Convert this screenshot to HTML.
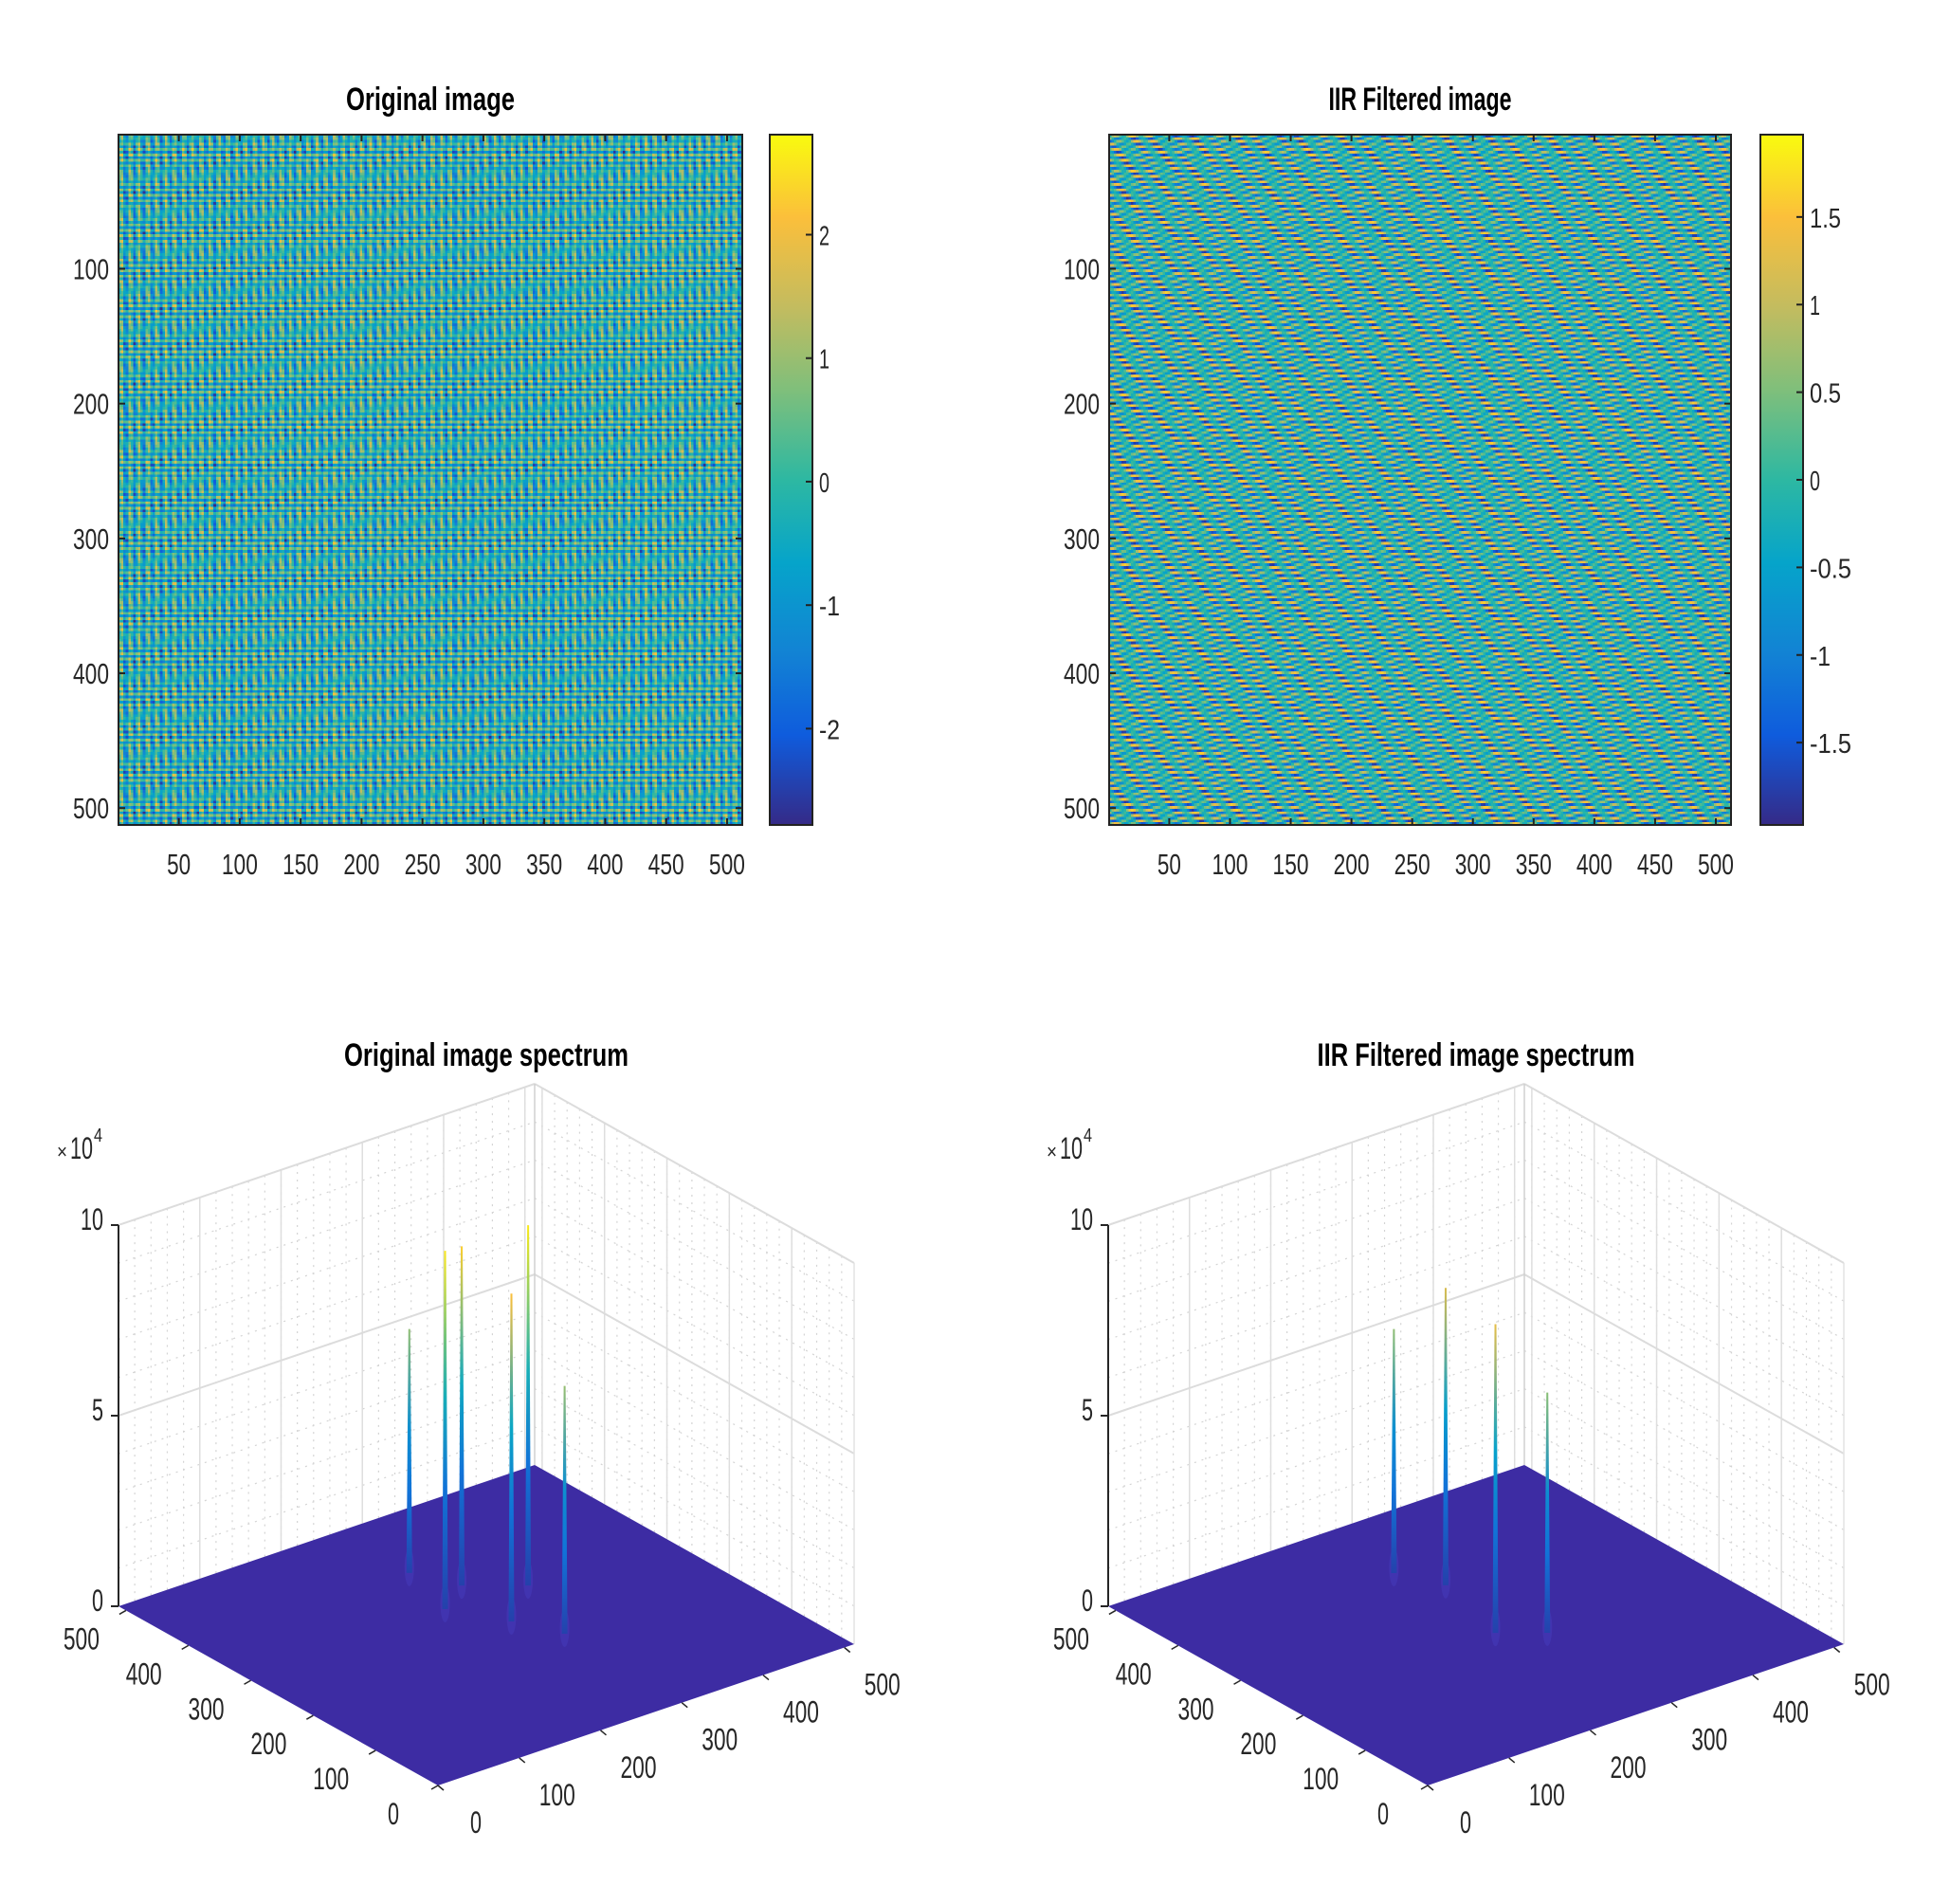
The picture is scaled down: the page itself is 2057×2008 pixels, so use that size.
<!DOCTYPE html>
<html><head><meta charset="utf-8"><style>
html,body{margin:0;padding:0;background:#fff;}
#wrap{position:relative;width:2057px;height:2008px;overflow:hidden;font-family:"Liberation Sans",sans-serif;}
canvas{position:absolute;image-rendering:pixelated;}
svg{position:absolute;left:0;top:0;}
</style></head><body>
<div id="wrap">
<canvas id="c1" width="256" height="256" style="left:125px;top:142px;width:658px;height:728px"></canvas>
<canvas id="c2" width="256" height="256" style="left:1170px;top:142px;width:656px;height:728px"></canvas>
<svg id="s" width="2057" height="2008" xmlns="http://www.w3.org/2000/svg">
<defs>
<linearGradient id="parula" x1="0" y1="1" x2="0" y2="0">
<stop offset="0" stop-color="#352a87"/><stop offset="0.13" stop-color="#0f5cdd"/><stop offset="0.25" stop-color="#1283d4"/><stop offset="0.38" stop-color="#06a4ca"/><stop offset="0.5" stop-color="#2db8a2"/><stop offset="0.63" stop-color="#7fbf7b"/><stop offset="0.75" stop-color="#c3bc5f"/><stop offset="0.88" stop-color="#fbbf3b"/><stop offset="1" stop-color="#f9fb0e"/>
</linearGradient>
</defs>
</svg>
</div>
<script>
// ---- data ----
const yTicks = [100,200,300,400,500];
const xTicks = [50,100,150,200,250,300,350,400,450,500];
const cb1Ticks = [-2,-1,0,1,2];
const cb2Ticks = [-1.5,-1,-0.5,0,0.5,1,1.5];
const floorTicks = [0,100,200,300,400,500];
const zTicks = [0,5,10];
const spikesA1 = [258,236,281,270,332,294];
const spikesB1 = [382,296,328,234,288,180];
const spikesH1 = [6.6,9.6,9.1,8.8,9.65,6.7];
const spikesA2 = [254,277,250,290];
const spikesB2 = [385,332,217,186];
const spikesH2 = [6.6,8.0,8.3,6.5];

const NS='http://www.w3.org/2000/svg';
const svg=document.getElementById('s');
function el(tag,attrs,parent){const e=document.createElementNS(NS,tag);for(const k in attrs)e.setAttribute(k,attrs[k]);(parent||svg).appendChild(e);return e;}
function txt(x,y,s,size,anchor,w,bold,nm){
  const t=el('text',{x:x,y:y,'font-size':size,'text-anchor':anchor,'font-family':'Liberation Sans, sans-serif',fill:bold?'#000':'#262626','font-weight':bold?'bold':'normal',textLength:w,lengthAdjust:'spacingAndGlyphs'});
  t.textContent=s;
  
  
  return t;
}
const stops=[[0,[53,42,135]],[0.13,[15,92,221]],[0.25,[18,131,212]],[0.38,[6,164,202]],[0.5,[45,184,162]],[0.63,[127,191,123]],[0.75,[195,188,95]],[0.88,[251,191,59]],[1,[249,251,14]]];
function parula(t){t=Math.max(0,Math.min(1,t));for(let i=1;i<stops.length;i++){if(t<=stops[i][0]){const a=stops[i-1],b=stops[i];const f=(t-a[0])/(b[0]-a[0]);return a[1].map((v,k)=>Math.round(v+(b[1][k]-v)*f));}}return stops[stops.length-1][1];}

// ---- heatmap textures ----
function fillCanvas(id,fn,lo,hi){
  const c=document.getElementById(id),ctx=c.getContext('2d'),im=ctx.createImageData(256,256);
  for(let y=0;y<256;y++)for(let x=0;x<256;x++){const v=fn(x*2,y*2);const col=parula((v-lo)/(hi-lo));const i=(y*256+x)*4;im.data[i]=col[0];im.data[i+1]=col[1];im.data[i+2]=col[2];im.data[i+3]=255;}
  ctx.putImageData(im,0,0);
}
fillCanvas('c1',(x,y)=>1.1*Math.sin(2*Math.PI*x/7.3+0.4)+0.9*Math.sin(2*Math.PI*y/4.3)+0.6*Math.sin(2*Math.PI*(x*0.31-y*0.17)/2.7)-0.25,-2.8,2.8);
fillCanvas('c2',(x,y)=>0.95*Math.sin(2*Math.PI*(x*0.012+y*0.23))+0.8*Math.sin(2*Math.PI*(x*0.07-y*0.31))-0.1,-1.95,1.95);

// ---- 2D panels ----
function panel2D(ox,px,pw,title,titleW,cbx,cbTicks,cbLo,cbHi,pfx){
  const top=142,bot=870,left=px,right=px+pw;
  txt(left+pw/2,116,title,34,'middle',titleW,true,pfx+'-title');
  el('rect',{x:left,y:top,width:pw,height:bot-top,fill:'none',stroke:'#222','stroke-width':2,});
  const yS=v=>top+(v-0.5)/512*(bot-top), xS=v=>left+(v-0.5)/512*pw;
  yTicks.forEach(v=>{const y=yS(v);el('line',{x1:left,y1:y,x2:left+7,y2:y,stroke:'#222','stroke-width':2});el('line',{x1:right,y1:y,x2:right-7,y2:y,stroke:'#222','stroke-width':2});txt(left-10,y+11,String(v),31,'end',38,false,pfx+'-y-tick-label');});
  xTicks.forEach(v=>{const x=xS(v);el('line',{x1:x,y1:bot,x2:x,y2:bot-7,stroke:'#222','stroke-width':2});el('line',{x1:x,y1:top,x2:x,y2:top+7,stroke:'#222','stroke-width':2});txt(x,922,String(v),31,'middle',v<100?25:38,false,pfx+'-x-tick-label');});
  el('rect',{x:cbx,y:top,width:45,height:bot-top,fill:'url(#parula)',stroke:'#222','stroke-width':2,});
  cbTicks.forEach(v=>{const y=bot-(v-cbLo)/(cbHi-cbLo)*(bot-top);el('line',{x1:cbx+45,y1:y,x2:cbx+38,y2:y,stroke:'#222','stroke-width':2});const s=String(v);txt(cbx+52,y+11,s,29,'start',s.length*11,false,pfx+'-colorbar-label');});
}
panel2D(0,125,658,'Original image',178,812,cb1Ticks,-2.78,2.81,'orig');
panel2D(1044,1170,656,'IIR Filtered image',193,1857,cb2Ticks,-1.97,1.97,'filt');

// ---- 3D panels ----
function panel3D(ox,title,titleW,A,B,H,pfx){
  const P=(a,b,z)=>[ox+462+a/512*439-b/512*337, 1883-a/512*149-b/512*189-z/10*402];
  const g=el('g',{});
  txt(ox+513,1124,title,34,'middle',titleW,true,pfx+'-title');
  const line=(p,q,st,w,dash)=>{const a={x1:p[0],y1:p[1],x2:q[0],y2:q[1],stroke:st,'stroke-width':w};if(dash)a['stroke-dasharray']=dash;return el('line',a,g);};
  for(let t=20;t<512;t+=20){line(P(t,512,0),P(t,512,10),'#d4d4d4',1.2,'2,6');line(P(512,t,0),P(512,t,10),'#d4d4d4',1.2,'2,6');}
  for(let z=1;z<10;z++){if(z==5)continue;line(P(0,512,z),P(512,512,z),'#d4d4d4',1.2,'2,6');line(P(512,512,z),P(512,0,z),'#d4d4d4',1.2,'2,6');}
  floorTicks.forEach(t=>{if(t==0)return;line(P(t,512,0),P(t,512,10),'#dedede',1.5);line(P(512,t,0),P(512,t,10),'#dedede',1.5);});
  [5,10].forEach(z=>{line(P(0,512,z),P(512,512,z),'#dcdcdc',2);line(P(512,512,z),P(512,0,z),'#dcdcdc',2);});
  line(P(512,512,0),P(512,512,10),'#d0d0d0',1.5);
  line(P(512,0,0),P(512,0,10),'#e4e4e4',1.5);
  const c=[P(0,0,0),P(512,0,0),P(512,512,0),P(0,512,0)];
  const fl=el('polygon',{points:c.map(p=>p.join(',')).join(' '),fill:'#3d2ca3'},g);
  
  
  for(let i=0;i<A.length;i++){
    const b0=P(A[i],B[i],0),t0=P(A[i],B[i],H[i]);
    const gid=pfx+'g'+i;
    const lg=el('linearGradient',{id:gid,x1:0,y1:b0[1],x2:0,y2:t0[1],gradientUnits:'userSpaceOnUse'},svg.querySelector('defs'));
    [[0,0.05],[0.35,0.2],[0.6,H[i]*0.045],[1,H[i]/10]].forEach(s=>{const col=parula(s[1]);el('stop',{offset:s[0],'stop-color':'rgb('+col.join(',')+')'},lg);});
    el('ellipse',{cx:b0[0],cy:b0[1]-14,rx:5,ry:20,fill:'#4a46c8',opacity:0.35},g);
    const sp=el('polygon',{points:[b0[0]-3,b0[1]-8,b0[0]+3,b0[1]-8,t0[0]+1,t0[1],t0[0]-1,t0[1]].join(' '),fill:'url(#'+gid+')'},g);
    
    
  }
  const zb=P(0,512,0),zt=P(0,512,10);
  line(zb,zt,'#262626',2);
  zTicks.forEach(z=>{const p=P(0,512,z);line([p[0]-8,p[1]],p,'#262626',2);const s=String(z);txt(p[0]-16,p[1]+5,s,32,'end',s.length*12,false,pfx+'-z-tick-label');});
  txt(ox+60,1222,'\u00d7',22,'start',11,false,pfx+'-z-multiplier');
  txt(ox+74,1222,'10',32,'start',24,false,pfx+'-z-exponent-base');
  txt(ox+99,1204,'4',20,'start',9,false,pfx+'-z-exponent');
  floorTicks.forEach(t=>{
    const p=P(0,t,0);line(p,[p[0]-7,p[1]+4],'#262626',1.5);
    txt(p[0]-47,p[1]+41,String(t),32,'middle',t==0?12:38,false,pfx+'-y-tick-label');
    const q=P(t,0,0);line(q,[q[0]+6,q[1]+5],'#262626',1.5);
    txt(q[0]+40,q[1]+50,String(t),32,'middle',t==0?12:38,false,pfx+'-x-tick-label');
  });
}
panel3D(0,'Original image spectrum',300,spikesA1,spikesB1,spikesH1,'orig-spec');
panel3D(1044,'IIR Filtered image spectrum',335,spikesA2,spikesB2,spikesH2,'filt-spec');
</script>
</body></html>
